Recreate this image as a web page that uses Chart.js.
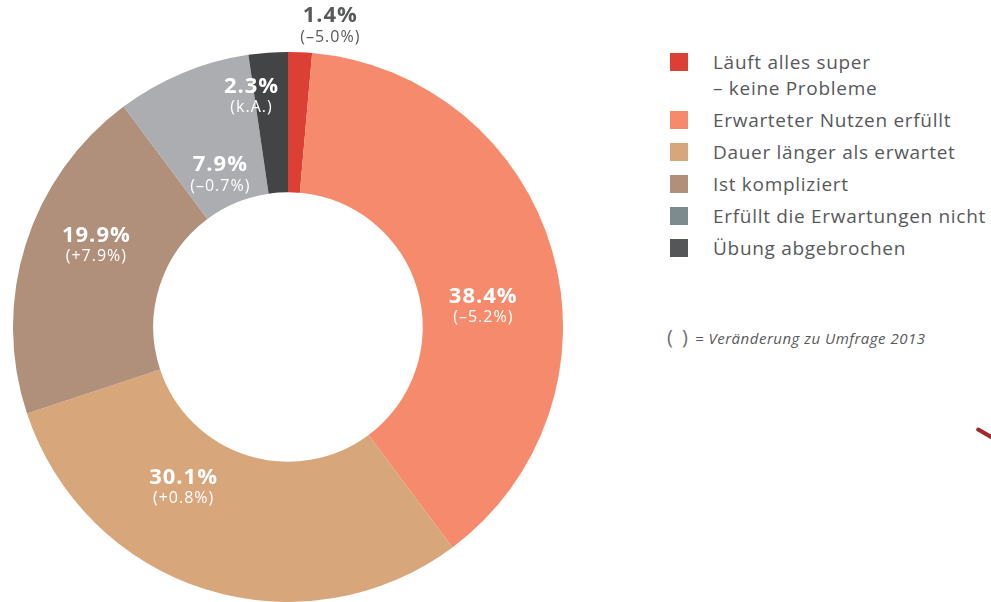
<!DOCTYPE html>
<html lang="de">
<head>
<meta charset="utf-8">
<title>Umfrage – Ergebnis der Übung</title>
<script src="https://cdn.jsdelivr.net/npm/chart.js@4/dist/chart.umd.min.js"></script>
<style>
  html, body { margin: 0; padding: 0; background: #fff; }
  body { width: 991px; height: 602px; position: relative; overflow: hidden; font-family: "Open Sans", sans-serif; color: #58595b; }
  #chart-box { position: absolute; left: 0; top: 0; width: 600px; height: 602px; }
  #legend { position: absolute; left: 670px; top: 49px; margin: 0; padding: 0; list-style: none; }
  #legend li { position: relative; padding-left: 43px; margin-bottom: 6px; font-size: 19px; letter-spacing: 0.7px; line-height: 26px; white-space: pre; }
  #legend li span.box { position: absolute; left: 0; top: 4px; width: 18px; height: 18px; }
  #note { position: absolute; left: 667px; top: 323px; font-size: 15px; letter-spacing: 0.5px; font-style: italic; white-space: nowrap; }
  #note b { font-style: normal; font-weight: 400; font-size: 20px; color: #6d6e70; margin-right: 5px; letter-spacing: 2px; }
  #deco { position: absolute; left: 975px; top: 432px; width: 22px; height: 4px; background: #a3262a; transform: rotate(30deg); border-radius: 2px; }
</style>
</head>
<body>
<div id="chart-box"><canvas id="donut"></canvas></div>
<ul id="legend"></ul>
<div id="note"><b>( )</b>= Veränderung zu Umfrage 2013</div>
<div id="deco"></div>

<script>
// Data
const labels = [
  'Läuft alles super\n– keine Probleme',
  'Erwarteter Nutzen erfüllt',
  'Dauer länger als erwartet',
  'Ist kompliziert',
  'Erfüllt die Erwartungen nicht',
  'Übung abgebrochen'
];
const shares = [1.4, 38.4, 30.1, 19.9, 7.9, 2.3];
const changes = ['(–5.0%)', '(–5.2%)', '(+0.8%)', '(+7.9%)', '(–0.7%)', '(k.A.)'];

// Colours (slice and legend box differ for "Erfüllt die Erwartungen nicht")
const sliceColors = ['#dc4034', '#f58b6c', '#d8a67b', '#b08f7b', '#acadb0', '#434446'];
const legendColors = ['#dc4034', '#f58b6c', '#d8a67b', '#b08f7b', '#7d8a8e', '#555658'];

// Label placement: angle (deg clockwise from top) and radius as share of outer radius
const labelAngle = [8, 84, 213, 293, 336, 351];
const labelRadius = [1.105, 0.714, 0.697, 0.757, 0.605, 0.848];
const labelColor = ['#58595b', '#fff', '#fff', '#fff', '#fff', '#fff'];

// Draw the share + change text on each slice
const sliceLabels = {
  id: 'sliceLabels',
  afterDatasetsDraw(chart) {
    const ctx = chart.ctx;
    const meta = chart.getDatasetMeta(0);
    meta.data.forEach((arc, i) => {
      const { x, y, outerRadius } = arc.getProps(['x', 'y', 'outerRadius'], true);
      const a = (labelAngle[i] - 90) * Math.PI / 180;
      const px = x + Math.cos(a) * outerRadius * labelRadius[i];
      const py = y + Math.sin(a) * outerRadius * labelRadius[i];
      ctx.save();
      ctx.textAlign = 'center';
      ctx.textBaseline = 'middle';
      ctx.fillStyle = labelColor[i];
      ctx.letterSpacing = '1px';
      ctx.font = 'bold 22px "Open Sans", sans-serif';
      ctx.fillText(shares[i].toFixed(1) + '%', px, py - 10);
      ctx.font = '16px "Open Sans", sans-serif';
      ctx.fillText(changes[i], px, py + 11);
      ctx.restore();
    });
  }
};

new Chart(document.getElementById('donut'), {
  type: 'doughnut',
  data: {
    labels: labels,
    datasets: [{
      data: shares,
      backgroundColor: sliceColors,
      borderWidth: 0
    }]
  },
  options: {
    responsive: true,
    maintainAspectRatio: false,
    animation: false,
    cutout: '49%',
    layout: { padding: { left: 12, right: 36, top: 52, bottom: 0 } },
    plugins: {
      legend: { display: false },
      tooltip: { enabled: false }
    }
  },
  plugins: [sliceLabels]
});

// HTML legend built from the arrays
const legendEl = document.getElementById('legend');
labels.forEach((text, i) => {
  const li = document.createElement('li');
  li.innerHTML = `<span class="box" style="background:${legendColors[i]}"></span>`;
  li.appendChild(document.createTextNode(text));
  legendEl.appendChild(li);
});
</script>
</body>
</html>
